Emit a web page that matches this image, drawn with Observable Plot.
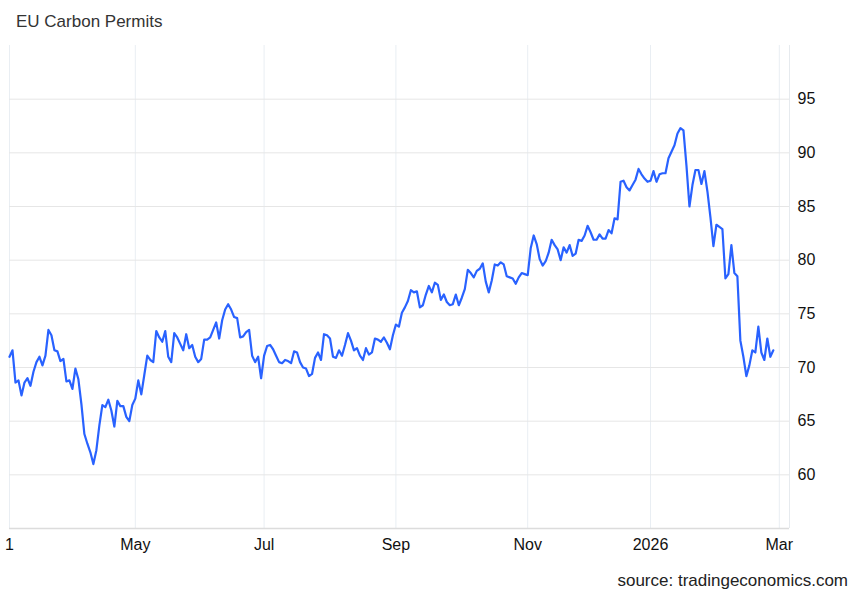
<!DOCTYPE html>
<html>
<head>
<meta charset="utf-8">
<script src="https://cdn.jsdelivr.net/npm/d3@7"></script>
<script src="https://cdn.jsdelivr.net/npm/@observablehq/plot@0.6"></script>
<style>
  html, body { margin: 0; padding: 0; background: #fff; }
  body { width: 860px; height: 596px; font-family: "Liberation Sans", Arial, Helvetica, sans-serif; overflow: hidden; }
  #title { height: 40px; box-sizing: border-box; padding: 12px 0 0 16px; font-size: 17px; color: #333; line-height: 20px; }
  #source { height: 38px; box-sizing: border-box; text-align: right; padding: 13px 12px 0 0; font-size: 17px; color: #222; line-height: 20px; }
  #chart svg { display: block; }
</style>
</head>
<body>
<div id="title">EU Carbon Permits</div>
<div id="chart"></div>
<div id="source">source: tradingeconomics.com</div>
<script>
// Daily (trading-day) closing prices, EUR per tonne
const prices = [
  71.0, 71.6, 68.6, 68.8, 67.4, 68.6, 69.0, 68.3, 69.6, 70.5,
  71.0, 70.2, 71.1, 73.5, 73.0, 71.6, 71.5, 70.6, 70.8, 68.7,
  68.8, 68.0, 69.9, 68.9, 66.6, 63.8, 62.9, 62.1, 61.0, 62.3,
  64.6, 66.5, 66.3, 67.0, 66.0, 64.5, 66.9, 66.4, 66.4, 65.4,
  65.0, 66.5, 67.1, 68.8, 67.5, 69.3, 71.1, 70.7, 70.5, 73.4,
  72.8, 72.4, 73.4, 71.0, 70.5, 73.2, 72.8, 72.2, 71.6, 73.1,
  71.8, 72.1, 71.0, 70.5, 70.8, 72.6, 72.6, 72.8, 73.5, 74.2,
  72.7, 74.4, 75.4, 75.9, 75.4, 74.7, 74.6, 72.8, 72.9, 73.3,
  73.5, 71.1, 70.5, 71.0, 69.0, 71.1, 72.0, 72.1, 71.7, 71.1,
  70.5, 70.4, 70.7, 70.6, 70.4, 71.5, 71.4, 70.5, 70.0, 69.9,
  69.2, 69.4, 70.9, 71.4, 70.7, 73.1, 73.0, 72.7, 71.0, 70.9,
  71.6, 71.1, 72.1, 73.2, 72.5, 71.6, 71.8, 71.1, 70.7, 71.8,
  71.2, 71.4, 72.7, 72.6, 72.4, 72.8, 72.3, 71.7, 73.0, 74.0,
  73.8, 75.1, 75.6, 76.2, 77.2, 77.0, 77.1, 75.6, 75.8, 76.8,
  77.6, 77.0, 77.9, 77.7, 76.3, 76.8, 76.1, 75.8, 75.9, 76.8,
  75.8, 76.5, 77.3, 79.1, 78.8, 78.4, 79.0, 79.2, 79.7, 78.0,
  77.0, 78.1, 79.6, 79.5, 79.8, 79.6, 78.5, 78.4, 78.3, 77.8,
  78.4, 78.8, 78.7, 78.6, 81.1, 82.3, 81.5, 80.1, 79.5, 79.9,
  80.7, 81.9, 81.4, 81.0, 80.0, 81.2, 80.7, 81.4, 80.4, 80.6,
  81.9, 81.8, 82.3, 83.2, 82.6, 81.9, 81.9, 82.4, 82.0, 82.0,
  82.8, 82.5, 83.9, 83.8, 87.3, 87.4, 86.8, 86.5, 87.0, 87.5,
  88.5, 88.0, 87.6, 87.3, 87.4, 88.3, 87.3, 88.0, 88.1, 88.1,
  89.5, 90.1, 90.7, 91.8, 92.3, 92.1, 88.8, 85.0, 87.0, 88.4,
  88.4, 87.1, 88.3, 86.4, 84.0, 81.3, 83.3, 83.1, 82.9, 78.3,
  78.7, 81.4, 78.8, 78.5, 72.5, 71.0, 69.2, 70.2, 71.6, 71.4,
  73.8, 71.4, 70.7, 72.7, 71.0, 71.6
];

// X tick labels and their positions (trading-day index)
const xTickLabels = ["1", "May", "Jul", "Sep", "Nov", "2026", "Mar"];
const xTickIndex = [0, 42, 85, 129, 173, 214, 257];
const xDomain = [0, 260.4];

// Y ticks
const yTicks = [60, 65, 70, 75, 80, 85, 90, 95];
const yDomain = [55, 100];

const data = prices.map((v, i) => ({i, v}));
const labelOf = new Map(xTickIndex.map((d, k) => [d, xTickLabels[k]]));

const chart = Plot.plot({
  width: 860,
  height: 518,
  marginTop: 5,
  marginBottom: 30,
  marginLeft: 9,
  marginRight: 71,
  style: {fontFamily: "'Liberation Sans', Arial, Helvetica, sans-serif", background: "#fff", overflow: "visible"},
  x: {domain: xDomain, axis: null, label: null},
  y: {domain: yDomain, axis: null, label: null},
  marks: [
    Plot.gridX(xTickIndex, {stroke: "#e9eef3", strokeOpacity: 1, strokeWidth: 1}),
    Plot.gridY(yTicks, {stroke: "#e6e6e6", strokeOpacity: 1, strokeWidth: 1}),
    Plot.ruleX([xDomain[1]], {stroke: "#e6eaee", strokeWidth: 1}),
    Plot.ruleY([yDomain[0]], {stroke: "#dcdcdc", strokeWidth: 1.5}),
    Plot.line(data, {x: "i", y: "v", stroke: "#2962ff", strokeWidth: 2.2, strokeLinejoin: "round", strokeLinecap: "round"}),
    Plot.axisX(xTickIndex, {
      label: null, tickSize: 0, tickPadding: 10, fontSize: 16, fill: "#111",
      tickFormat: d => labelOf.get(d)
    }),
    Plot.axisY(yTicks, {
      label: null, anchor: "right", tickSize: 0, tickPadding: 8, fontSize: 16, fill: "#111"
    })
  ]
});
document.getElementById("chart").appendChild(chart);
</script>
</body>
</html>
